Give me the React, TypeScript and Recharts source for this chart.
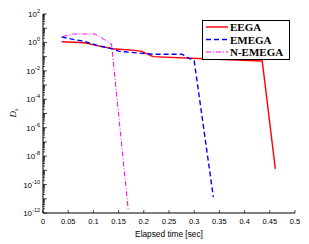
import { LineChart, Line, XAxis, YAxis, Legend } from 'recharts';

// EEGA (red, solid)
const eegaTime = [0.037, 0.083, 0.107, 0.139, 0.182, 0.196, 0.218, 0.318, 0.435, 0.461];
const eegaDs = [1.12, 0.95, 0.59, 0.36, 0.275, 0.234, 0.1, 0.071, 0.049, 1.26e-9];

// EMEGA (blue, dashed)
const emegaTime = [0.037, 0.063, 0.083, 0.109, 0.137, 0.152, 0.192, 0.218, 0.276, 0.286, 0.3, 0.338];
const emegaDs = [2.4, 1.55, 1.17, 0.59, 0.36, 0.234, 0.178, 0.148, 0.148, 0.087, 0.051, 1.3e-11];

// N-EMEGA (magenta, dash-dot)
const nemegaTime = [0.039, 0.059, 0.103, 0.136, 0.169];
const nemegaDs = [2.6, 3.9, 3.9, 0.78, 1.9e-12];

const xTicks = [0, 0.05, 0.1, 0.15, 0.2, 0.25, 0.3, 0.35, 0.4, 0.45, 0.5];
const yLabelExps = [2, 0, -2, -4, -6, -8, -10, -12];

const toRows = (t: number[], v: number[]) => t.map((x, i) => ({ t: x, ds: v[i] }));

const series = [
  { name: 'EEGA', data: toRows(eegaTime, eegaDs), color: '#ff0000', dash: undefined, width: 1.4 },
  { name: 'EMEGA', data: toRows(emegaTime, emegaDs), color: '#0000ff', dash: '5 3', width: 1.4 },
  { name: 'N-EMEGA', data: toRows(nemegaTime, nemegaDs), color: '#ff00ff', dash: '5 2 1 2', width: 1 },
];

// decade + minor log ticks, like matlab draws them
const logTicks: number[] = [];
for (let e = -12; e <= 2; e++) {
  logTicks.push(Math.pow(10, e));
  if (e < 2) for (let m = 2; m <= 9; m++) logTicks.push(m * Math.pow(10, e));
}

const isDecade = (v: number) => Math.abs(Math.log10(v) - Math.round(Math.log10(v))) < 1e-6;

const LeftTick = ({ x, y, payload }: any) => {
  const v = payload.value;
  const dec = isDecade(v);
  const exp = Math.round(Math.log10(v));
  return (
    <g>
      <line x1={x} y1={y} x2={x + (dec ? 4 : 2)} y2={y} stroke="#000" strokeWidth={0.7} />
      {dec && yLabelExps.includes(exp) && (
        <text x={x - 3} y={y + 3} textAnchor="end" fontSize={8} fontFamily="Liberation Sans" fill="#000">
          <tspan>10</tspan>
          <tspan dy={-4} fontSize={5.5}>{exp}</tspan>
        </text>
      )}
    </g>
  );
};

const RightTick = ({ x, y, payload }: any) => {
  const dec = isDecade(payload.value);
  return <line x1={x} y1={y} x2={x - (dec ? 4 : 2)} y2={y} stroke="#000" strokeWidth={0.7} />;
};

const BottomTick = ({ x, y, payload }: any) => (
  <g>
    <line x1={x} y1={y} x2={x} y2={y - 3} stroke="#000" strokeWidth={0.7} />
    <text x={x} y={y + 11} textAnchor="middle" fontSize={7.5} fontFamily="Liberation Sans" fill="#000">
      {payload.value}
    </text>
  </g>
);

const TopTick = ({ x, y }: any) => <line x1={x} y1={y} x2={x} y2={y + 3} stroke="#000" strokeWidth={0.7} />;

const renderLegend = () => (
  <div style={{ width: 88, height: 40, border: '1px solid #000', background: '#fff', boxSizing: 'border-box' }}>
    <svg width={86} height={38}>
      {series.map((s, i) => (
        <g key={s.name}>
          <line x1={3} x2={25} y1={6 + i * 12.5} y2={6 + i * 12.5} stroke={s.color} strokeWidth={s.width} strokeDasharray={s.dash} />
          <text x={27} y={10 + i * 12.5} fontSize={11} fontWeight="bold" fontFamily="Liberation Serif" fill="#000">
            {s.name}
          </text>
        </g>
      ))}
    </svg>
  </div>
);

export default function App() {
  return (
    <div style={{ position: 'absolute', left: 0, top: 0, width: 309, height: 244, background: '#fff' }}>
      <LineChart width={309} height={244} margin={{ top: 14, right: 14, left: 0, bottom: 0 }}>
        <XAxis
          type="number"
          dataKey="t"
          domain={[0, 0.5]}
          ticks={xTicks}
          interval={0}
          allowDataOverflow
          height={31}
          tickSize={0}
          tickMargin={0}
          tickLine={false}
          axisLine={{ stroke: '#000' }}
          tick={(p: any) => <BottomTick {...p} />}
          label={{
            content: (p: any) => (
              <text x={169} y={237} textAnchor="middle" fontSize={8.3} fontFamily="Liberation Sans" fill="#000">
                Elapsed time [sec]
              </text>
            ),
          }}
        />
        <XAxis
          xAxisId="top"
          orientation="top"
          type="number"
          dataKey="t"
          domain={[0, 0.5]}
          ticks={xTicks}
          interval={0}
          allowDataOverflow
          height={0}
          tickSize={0}
          tickMargin={0}
          tickLine={false}
          axisLine={{ stroke: '#000' }}
          tick={(p: any) => <TopTick {...p} />}
        />
        <YAxis
          scale="log"
          type="number"
          domain={[1e-12, 100]}
          ticks={logTicks}
          interval={0}
          allowDataOverflow
          width={43}
          tickSize={0}
          tickMargin={0}
          tickLine={false}
          axisLine={{ stroke: '#000' }}
          tick={(p: any) => <LeftTick {...p} />}
          label={{
            content: () => (
              <text x={16} y={113} transform="rotate(-90 16 113)" textAnchor="middle" fontSize={9} fontFamily="Liberation Serif" fontStyle="italic" fill="#000">
                <tspan>D</tspan>
                <tspan dy={2} fontSize={6}>s</tspan>
              </text>
            ),
          }}
        />
        <YAxis
          yAxisId="right"
          orientation="right"
          scale="log"
          type="number"
          domain={[1e-12, 100]}
          ticks={logTicks}
          interval={0}
          allowDataOverflow
          width={0}
          tickSize={0}
          tickMargin={0}
          tickLine={false}
          axisLine={{ stroke: '#000' }}
          tick={(p: any) => <RightTick {...p} />}
        />
        <Legend
          layout="vertical"
          align="center"
          verticalAlign="middle"
          content={renderLegend}
          wrapperStyle={{ left: 202, top: 20, width: 88 }}
        />
        {series.map((s) => (
          <Line
            key={s.name}
            data={s.data}
            dataKey="ds"
            name={s.name}
            type="linear"
            stroke={s.color}
            strokeWidth={s.width}
            strokeDasharray={s.dash}
            dot={false}
            isAnimationActive={false}
          />
        ))}
      </LineChart>
    </div>
  );
}
